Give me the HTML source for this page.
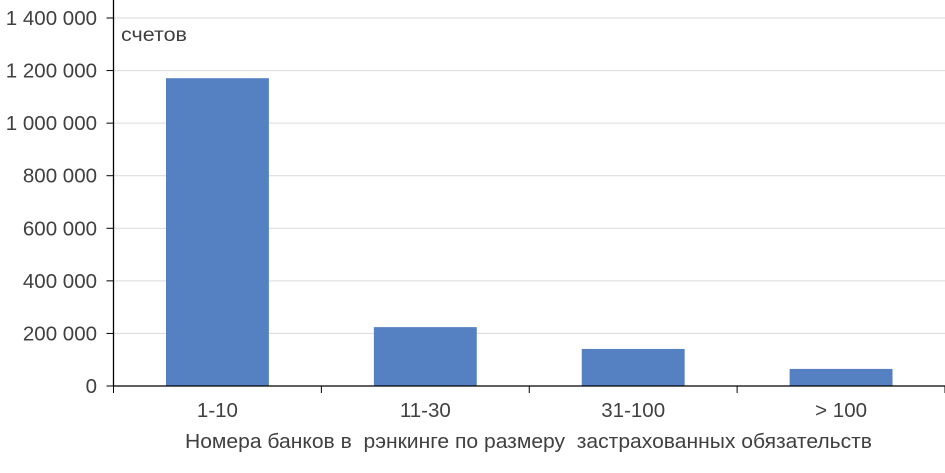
<!DOCTYPE html>
<html><head><meta charset="utf-8"><style>
html,body{margin:0;padding:0;background:#fff;width:945px;height:473px;overflow:hidden}
text{font-family:"Liberation Sans",Arial,sans-serif;fill:#404040}
</style></head><body>
<svg id="chart" width="945" height="473" xmlns="http://www.w3.org/2000/svg">
<g id="grid"></g><g id="bars"></g><g id="axes"></g>
<text x="121" y="41" font-size="19" textLength="66" lengthAdjust="spacingAndGlyphs">счетов</text>
<text x="185" y="448" font-size="20" textLength="687" lengthAdjust="spacingAndGlyphs" style="white-space:pre">Номера банков в  рэнкинге по размеру  застрахованных обязательств</text>
</svg>
<script>
const categories=["1-10","11-30","31-100","> 100"];
const values=[1171000,224000,141000,65000];
const yTicks=[0,200000,400000,600000,800000,1000000,1200000,1400000];
const yTickLabels=["0","200 000","400 000","600 000","800 000","1 000 000","1 200 000","1 400 000"];
const NS="http://www.w3.org/2000/svg";
const x0=113.5,x1=945,y0=386,yTop=18,yMax=1400000;
const y=v=>y0-(v/yMax)*(y0-yTop);
const band=(x1-x0)/categories.length;
const bw=band*0.495;
function mk(t,a,p){const e=document.createElementNS(NS,t);for(const k in a)e.setAttribute(k,a[k]);p.appendChild(e);return e;}
const g=document.getElementById('grid'),b=document.getElementById('bars'),ax=document.getElementById('axes');
yTicks.forEach((v,i)=>{
  if(v>0){const l=mk('line',{x1:x0,x2:x1,y1:y(v),y2:y(v),stroke:'#d9d9d9','stroke-width':1},g);
  
  }
  const t=mk('line',{x1:x0-7,x2:x0,y1:y(v),y2:y(v),stroke:'#000','stroke-width':1},ax);
  
  
  const tx=mk('text',{x:97,y:y(v)+7,'font-size':20.5,'text-anchor':'end'},ax);
  tx.textContent=yTickLabels[i];
  
  
});
categories.forEach((c,i)=>{
  const cx=x0+band*(i+0.5);
  const r=mk('rect',{x:cx-bw/2,y:y(values[i]),width:bw,height:y0-y(values[i]),fill:'#5580c2'},b);
  
  
  const t=mk('text',{x:cx,y:417,'font-size':20.5,'text-anchor':'middle'},ax);
  t.textContent=c;
  
  
});
for(let i=0;i<=categories.length;i++){
  const xx=x0+band*i;
  const t=mk('line',{x1:xx,x2:xx,y1:y0,y2:y0+7,stroke:'#000','stroke-width':1},ax);
  
  
}
const xa=mk('line',{x1:x0,x2:x1,y1:y0,y2:y0,stroke:'#000','stroke-width':1.3},ax);


const ya=mk('line',{x1:x0,x2:x0,y1:0,y2:y0,stroke:'#000','stroke-width':1.3},ax);


</script>
</body></html>
